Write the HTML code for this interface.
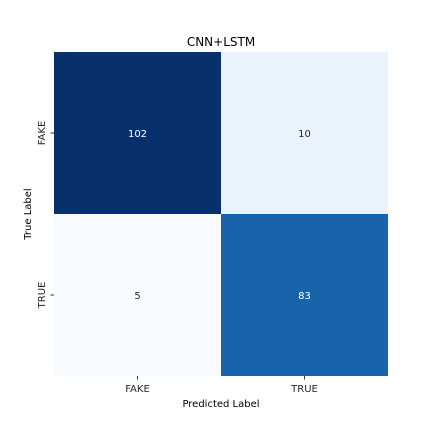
<!DOCTYPE html>
<html><head><meta charset="utf-8"><style>
body{margin:0;background:#fff;}
svg text{font-family:"DejaVu Sans","Liberation Sans",sans-serif;}
</style></head><body>
<svg width="432" height="432" xmlns="http://www.w3.org/2000/svg">
<text x="221" y="46" font-size="12" text-anchor="middle">CNN+LSTM</text>
<g id="cells"></g>
<g font-size="10" fill="#262626">
<line x1="137.5" x2="137.5" y1="376" y2="379.5" stroke="#333"/>
<line x1="304.5" x2="304.5" y1="376" y2="379.5" stroke="#333"/>
<text x="137.5" y="392" text-anchor="middle">FAKE</text>
<text x="304.5" y="392" text-anchor="middle">TRUE</text>
<line x1="50.5" x2="54" y1="133" y2="133" stroke="#333"/>
<line x1="50.5" x2="54" y1="295" y2="295" stroke="#333"/>
<g transform="translate(45,133) rotate(-90)"><text x="0" y="0" text-anchor="middle">FAKE</text></g>
<g transform="translate(45,295) rotate(-90)"><text x="0" y="0" text-anchor="middle">TRUE</text></g>
<text x="221" y="407" text-anchor="middle" fill="#000">Predicted Label</text>
<g transform="translate(31,214) rotate(-90)"><text x="0" y="0" text-anchor="middle" fill="#000">True Label</text></g>
</g>
</svg>
<script>
const labels=["fake","true"];
const values=[[102,10],[5,83]];
const colors=[["#08306b","#eaf3fb"],["#f7fbff","#1764ab"]];
const x0=54,y0=52,cw=167,ch=162;
const g=document.getElementById('cells');
const ns="http://www.w3.org/2000/svg";
values.forEach((row,i)=>row.forEach((v,j)=>{
 const r=document.createElementNS(ns,'rect');
 r.setAttribute('x',x0+j*cw);r.setAttribute('y',y0+i*ch);
 r.setAttribute('width',cw);r.setAttribute('height',ch);
 r.setAttribute('fill',colors[i][j]);
 
 
 g.appendChild(r);
 const t=document.createElementNS(ns,'text');
 t.setAttribute('x',x0+j*cw+cw/2);t.setAttribute('y',y0+i*ch+ch/2+4);
 t.setAttribute('font-size','10');t.setAttribute('text-anchor','middle');
 t.setAttribute('fill',v>50?'#fff':'#262626');
 t.textContent=v;
 
 
 g.appendChild(t);
}));
</script>
</body></html>
